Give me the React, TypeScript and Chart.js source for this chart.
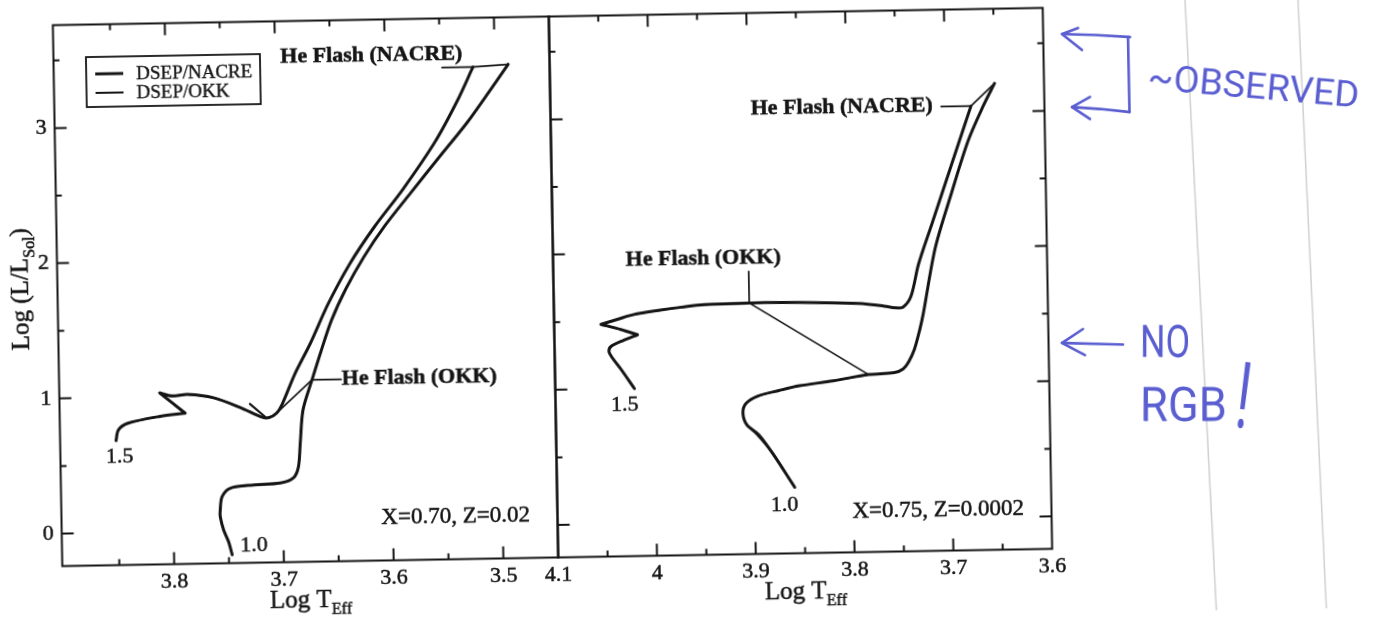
import { useEffect, useRef } from "react";
import { Chart, registerables } from "chart.js";

Chart.register(...registerables);

const SERIF = '"Liberation Serif", "Times New Roman", serif';
const HAND = 'Roboto, "DejaVu Sans", sans-serif';
const INK = "#151515";
const PEN = "#5a5ed0";

// The printed sheet sits about one degree off square on the page.
const SHEET_TILT = 1; // degrees, counter-clockwise
const PIVOT_X = 552.5;
const PIVOT_Y = 287;
const RIGHT_CANVAS_LEFT = 520;

// ---------- shared luminosity axis ----------
const logLMin = -0.24;
const logLMax = 3.761;
const logLTickLabels = [0, 1, 2, 3];

// ---------- X=0.70, Z=0.02 ----------
const z02LogTMin = 3.45;
const z02LogTMax = 3.902;
const z02LogTTickLabels = [3.8, 3.7, 3.6, 3.5];

// 1.0 Msun, NACRE rates: ZAMS to the tip of the red giant branch
const z02M10LogT = [3.747, 3.7501, 3.7544, 3.7573, 3.7572, 3.7553, 3.7477, 3.7266, 3.7021, 3.6901, 3.6853, 3.6832, 3.6802, 3.6715, 3.663, 3.6528, 3.6391, 3.6225, 3.6024, 3.5793, 3.5529, 3.5262, 3.5062, 3.4878];
const z02M10LogL = [-0.178, -0.081, 0.006, 0.105, 0.154, 0.252, 0.314, 0.335, 0.346, 0.382, 0.462, 0.639, 0.883, 1.105, 1.312, 1.543, 1.775, 2.005, 2.238, 2.468, 2.727, 2.986, 3.205, 3.413];
// 1.5 Msun, NACRE rates (turning points of the hook are listed twice to keep the corners sharp)
const z02M15LogT = [3.851, 3.8487, 3.8398, 3.8103, 3.7876, 3.7876, 3.8105, 3.8105, 3.7995, 3.7853, 3.7615, 3.7368, 3.7174, 3.711, 3.704, 3.699, 3.6872, 3.6726, 3.6557, 3.6355, 3.6121, 3.5854, 3.5553, 3.5351, 3.5199];
const z02M15LogL = [0.681, 0.759, 0.808, 0.855, 0.875, 0.875, 1.028, 1.028, 1.004, 1.013, 0.985, 0.908, 0.835, 0.832, 0.866, 0.93, 1.148, 1.372, 1.663, 1.955, 2.23, 2.505, 2.853, 3.143, 3.397];
// He flash with OKK rates (1.0, 1.5) and with NACRE rates (1.5, 1.0)
const z02OkkFlashLogT = [3.6715, 3.704];
const z02OkkFlashLogL = [1.105, 0.866];
const z02NacreFlashLogT = [3.5199, 3.4878];
const z02NacreFlashLogL = [3.397, 3.413];
// short OKK piece meeting the base of the 1.5 giant branch
const z02OkkTailLogT = [3.7285, 3.7146];
const z02OkkTailLogL = [0.935, 0.836];
// label leaders
const z02NacreLeaderLogT = [3.548, 3.5199];
const z02NacreLeaderLogL = [3.397, 3.397];
const z02OkkLeaderLogT = [3.645, 3.6715];
const z02OkkLeaderLogL = [1.105, 1.105];

// ---------- X=0.75, Z=0.0002 ----------
const z0002LogTMin = 3.6;
const z0002LogTMax = 4.1;
const z0002LogTTickLabels = [4.1, 4.0, 3.9, 3.8, 3.7, 3.6];

const z0002M15LogT = [4.0199, 4.0331, 4.0418, 4.045, 4.0426, 4.0301, 4.0158, 4.0158, 4.0325, 4.0527, 4.0527, 4.035, 4.02, 3.9926, 3.97, 3.9478, 3.9022, 3.8515, 3.7925, 3.7678, 3.7545, 3.7466, 3.7384, 3.7301, 3.7161, 3.7021, 3.6881, 3.6744];
const z0002M15LogL = [0.999, 1.143, 1.23, 1.276, 1.315, 1.357, 1.396, 1.396, 1.437, 1.478, 1.478, 1.515, 1.545, 1.575, 1.595, 1.61, 1.617, 1.615, 1.6, 1.58, 1.562, 1.567, 1.646, 1.884, 2.175, 2.467, 2.758, 3.044];
const z0002M10LogT = [3.8594, 3.881, 3.895, 3.9068, 3.9105, 3.9074, 3.895, 3.8736, 3.8528, 3.8189, 3.7826, 3.7564, 3.7475, 3.742, 3.736, 3.73, 3.7262, 3.713, 3.6954, 3.6779, 3.6625, 3.6501];
const z0002M10LogL = [0.248, 0.5, 0.642, 0.716, 0.803, 0.873, 0.928, 0.966, 0.998, 1.03, 1.072, 1.084, 1.11, 1.16, 1.25, 1.4, 1.517, 2.0, 2.408, 2.787, 3.035, 3.209];
// the OKK 1.0 track runs a little apart from NACRE just after the ZAMS
const z0002Okk10LogT = [3.8594, 3.88, 3.8985, 3.9068, 3.9105, 3.9074, 3.895, 3.8736, 3.8528, 3.8189, 3.7826];
const z0002Okk10LogL = [0.248, 0.49, 0.655, 0.716, 0.803, 0.873, 0.928, 0.966, 0.998, 1.03, 1.072];
const z0002OkkFlashLogT = [3.9022, 3.7826];
const z0002OkkFlashLogL = [1.617, 1.072];
const z0002NacreFlashLogT = [3.6744, 3.6501];
const z0002NacreFlashLogL = [3.044, 3.209];
const z0002NacreLeaderLogT = [3.7045, 3.6744];
const z0002NacreLeaderLogL = [3.044, 3.044];
const z0002OkkLeaderLogT = [3.9022, 3.9022];
const z0002OkkLeaderLogL = [1.85, 1.617];

type Pt = { x: number; y: number };
type Note = { text: string; x: number; y: number; align: CanvasTextAlign; font: string };

const toPoints = (t: number[], l: number[]): Pt[] => t.map((v, i) => ({ x: v, y: l[i] }));
const upToPoint = (t: number[], l: number[], ft: number, fl: number): Pt[] => {
  const i = t.findIndex((v, k) => v === ft && l[k] === fl);
  return toPoints(t.slice(0, i + 1), l.slice(0, i + 1));
};

const NACRE_W = 3;
const OKK_W = 1.7;

function trace(label: string, data: Pt[], width: number, tension = 0.3) {
  return {
    label,
    data,
    showLine: true,
    borderColor: INK,
    backgroundColor: INK,
    borderWidth: width,
    pointRadius: 0,
    pointHoverRadius: 0,
    tension,
    fill: false,
    borderCapStyle: "round",
    borderJoinStyle: "round",
  };
}

const isMultiple = (v: number, step: number) => Math.abs(v / step - Math.round(v / step)) < 1e-6;
const inList = (v: number, list: number[]) => list.some((l) => Math.abs(l - v) < 1e-6);
const fmt = (v: number) => String(Math.round(v * 10) / 10);

// Box with inward ticks on the plotting area
function framePlugin(rightTicks: boolean) {
  return {
    id: "frame",
    afterDraw(chart: any) {
      const { ctx, chartArea: a } = chart;
      const xs = chart.scales.x;
      const ys = chart.scales.y;
      ctx.save();
      ctx.strokeStyle = INK;
      ctx.lineWidth = 2;
      ctx.beginPath();
      for (const t of xs.ticks) {
        const px = xs.getPixelForValue(t.value);
        if (px < a.left + 3 || px > a.right - 3) continue;
        const len = isMultiple(t.value, 0.1) ? 12 : 6;
        ctx.moveTo(px, a.bottom);
        ctx.lineTo(px, a.bottom - len);
        ctx.moveTo(px, a.top);
        ctx.lineTo(px, a.top + len);
      }
      for (const t of ys.ticks) {
        const py = ys.getPixelForValue(t.value);
        if (py < a.top + 3 || py > a.bottom - 3) continue;
        const len = isMultiple(t.value, 1) ? 12 : 6;
        ctx.moveTo(a.left, py);
        ctx.lineTo(a.left + len, py);
        if (rightTicks) {
          ctx.moveTo(a.right, py);
          ctx.lineTo(a.right - len, py);
        }
      }
      ctx.stroke();
      ctx.strokeRect(a.left, a.top, a.right - a.left, a.bottom - a.top);
      ctx.restore();
    },
  };
}

function inkText(ctx: CanvasRenderingContext2D, text: string, x: number, y: number) {
  ctx.fillText(text, x, y);
  ctx.strokeText(text, x, y);
}

function subscripted(ctx: CanvasRenderingContext2D, main: string, sub: string, tail: string, cx: number, base: number) {
  const mainFont = `25px ${SERIF}`;
  const subFont = `16px ${SERIF}`;
  ctx.font = mainFont;
  const w1 = ctx.measureText(main).width;
  const w3 = tail ? ctx.measureText(tail).width : 0;
  ctx.font = subFont;
  const w2 = ctx.measureText(sub).width;
  const x0 = cx - (w1 + w2 + w3) / 2;
  ctx.textAlign = "left";
  ctx.textBaseline = "alphabetic";
  ctx.font = mainFont;
  inkText(ctx, main, x0, base);
  ctx.font = subFont;
  inkText(ctx, sub, x0 + w1, base + 7);
  if (tail) {
    ctx.font = mainFont;
    inkText(ctx, tail, x0 + w1 + w2, base);
  }
}

function titlesPlugin(withY: boolean) {
  return {
    id: "titles",
    afterDraw(chart: any) {
      const { ctx, chartArea: a } = chart;
      ctx.save();
      ctx.fillStyle = INK;
      ctx.strokeStyle = INK;
      ctx.lineWidth = 0.5;
      subscripted(ctx, "Log T", "Eff", "", (a.left + a.right) / 2, a.bottom + 45);
      if (withY) {
        ctx.translate(28, (a.top + a.bottom) / 2 - 7);
        ctx.rotate(-Math.PI / 2);
        subscripted(ctx, "Log (L/L", "Sol", ")", 0, 0);
      }
      ctx.restore();
    },
  };
}

function notesPlugin(notes: Note[]) {
  return {
    id: "notes",
    afterDatasetsDraw(chart: any) {
      const { ctx } = chart;
      const xs = chart.scales.x;
      const ys = chart.scales.y;
      ctx.save();
      ctx.fillStyle = INK;
      ctx.strokeStyle = INK;
      ctx.lineWidth = 0.5;
      ctx.textBaseline = "middle";
      for (const n of notes) {
        ctx.font = n.font;
        ctx.textAlign = n.align;
        inkText(ctx, n.text, xs.getPixelForValue(n.x), ys.getPixelForValue(n.y));
      }
      ctx.restore();
    },
  };
}

// Boxed key listing one sample line per rate set
const legendPlugin = {
  id: "keyBox",
  afterDraw(chart: any) {
    const { ctx, chartArea: a } = chart;
    const entries: { label: string; width: number }[] = [];
    for (const ds of chart.data.datasets) {
      if (ds.label.startsWith("DSEP") && !entries.some((e) => e.label === ds.label)) {
        entries.push({ label: ds.label, width: ds.borderWidth });
      }
    }
    const left = a.left + 32.5;
    const top = a.top + 32.5;
    ctx.save();
    ctx.strokeStyle = INK;
    ctx.fillStyle = INK;
    ctx.lineWidth = 1.8;
    ctx.strokeRect(left, top, 174, 50);
    ctx.font = `19px ${SERIF}`;
    ctx.textAlign = "left";
    ctx.textBaseline = "alphabetic";
    entries.forEach((e, i) => {
      const yl = top + 17 + i * 19;
      ctx.lineWidth = Math.max(e.width, 2);
      ctx.beginPath();
      ctx.moveTo(left + 9, yl);
      ctx.lineTo(left + 37, yl);
      ctx.stroke();
      ctx.lineWidth = 0.4;
      inkText(ctx, e.label, left + 50, top + 23 + i * 19);
    });
    ctx.restore();
  },
};

// Pen notes written beside the figure, placed in page coordinates
const penPlugin = {
  id: "pen",
  afterDraw(chart: any) {
    const ctx: CanvasRenderingContext2D = chart.ctx;
    ctx.save();
    ctx.translate(PIVOT_X - RIGHT_CANVAS_LEFT, PIVOT_Y);
    ctx.rotate((SHEET_TILT * Math.PI) / 180);
    ctx.translate(-PIVOT_X, -PIVOT_Y);

    const stroke = (pts: number[][]) => {
      ctx.beginPath();
      pts.forEach(([x, y], i) => (i ? ctx.lineTo(x, y) : ctx.moveTo(x, y)));
      ctx.stroke();
    };
    // scanner shadows of the page
    ctx.strokeStyle = "rgba(120,120,120,0.35)";
    ctx.lineWidth = 1.5;
    stroke([[1185, 0], [1217, 622]]);
    stroke([[1298, 0], [1327, 622]]);

    ctx.strokeStyle = PEN;
    ctx.fillStyle = PEN;
    ctx.lineWidth = 2.6;
    ctx.lineCap = "round";
    ctx.lineJoin = "round";
    stroke([[1130, 37], [1095, 35], [1062, 34]]);
    stroke([[1078, 28], [1062, 34], [1082, 50]]);
    stroke([[1128, 37], [1129.5, 112]]);
    stroke([[1129.5, 112], [1100, 109], [1072, 107]]);
    stroke([[1090, 97], [1072, 107], [1090, 119]]);
    stroke([[1123, 344.5], [1062, 343]]);
    stroke([[1083, 329], [1062, 343], [1085, 355]]);

    const fitText = (text: string, left: number, base: number, width: number, cap: number, angle: number) => {
      const size = cap / 0.711;
      ctx.save();
      ctx.font = `400 ${size.toFixed(1)}px ${HAND}`;
      const natural = ctx.measureText(text).width;
      ctx.translate(left, base);
      ctx.rotate((angle * Math.PI) / 180);
      ctx.scale(width / natural, 1);
      ctx.textAlign = "left";
      ctx.textBaseline = "alphabetic";
      ctx.fillText(text, 0, 0);
      ctx.restore();
    };
    fitText("~OBSERVED", 1147, 89, 212, 26, 5);
    fitText("NO", 1140, 357, 50, 32, 0);
    fitText("RGB", 1140, 421, 87, 34, 0);
    fitText("!", 1233, 427, 14, 66, 7);
    ctx.restore();
  },
};

function panelConfig(p: {
  logTMin: number;
  logTMax: number;
  logTLabels: number[];
  datasets: any[];
  showLogL: boolean;
  yWidth: number;
  padRight: number;
  plugins: any[];
}) {
  const tickFont = { family: SERIF, size: 22 };
  return {
    type: "scatter",
    data: { datasets: p.datasets },
    options: {
      animation: false,
      responsive: false,
      maintainAspectRatio: false,
      events: [],
      layout: { padding: { top: 16.5, right: p.padRight, bottom: 0, left: 0 }, autoPadding: false },
      plugins: { legend: { display: false }, tooltip: { enabled: false } },
      scales: {
        x: {
          type: "linear",
          position: "bottom",
          reverse: true,
          min: p.logTMin,
          max: p.logTMax,
          grid: { display: false, drawTicks: false },
          border: { display: false },
          ticks: {
            stepSize: 0.05,
            autoSkip: false,
            maxRotation: 0,
            includeBounds: false,
            padding: 5,
            color: INK,
            textStrokeColor: INK,
            textStrokeWidth: 0.5,
            font: tickFont,
            callback: (v: number) => (inList(v, p.logTLabels) ? fmt(v) : ""),
          },
          afterBuildTicks: (s: any) => {
            s.ticks = s.ticks.filter((t: any) => t.value >= s.min - 1e-9 && t.value <= s.max + 1e-9);
          },
          afterFit: (s: any) => {
            s.height = 64.5;
            s.paddingLeft = 0;
            s.paddingRight = 0;
          },
        },
        y: {
          type: "linear",
          position: "left",
          min: logLMin,
          max: logLMax,
          grid: { display: false, drawTicks: false },
          border: { display: false },
          ticks: {
            display: p.showLogL,
            stepSize: 0.5,
            includeBounds: false,
            autoSkip: false,
            padding: 8,
            color: INK,
            textStrokeColor: INK,
            textStrokeWidth: 0.5,
            font: tickFont,
            callback: (v: number) => (inList(v, logLTickLabels) ? fmt(v) : ""),
          },
          afterBuildTicks: (s: any) => {
            s.ticks = s.ticks.filter((t: any) => t.value >= s.min - 1e-9 && t.value <= s.max + 1e-9);
          },
          afterFit: (s: any) => {
            s.width = p.yWidth;
            s.paddingTop = 0;
            s.paddingBottom = 0;
          },
        },
      },
    },
    plugins: p.plugins,
  } as any;
}

const BOLD = `bold 22px ${SERIF}`;
const PLAIN = `22px ${SERIF}`;
const PLAIN23 = `23px ${SERIF}`;

const z02Notes: Note[] = [
  { text: "He Flash (NACRE)", x: 3.6953, y: 3.495, align: "left", font: BOLD },
  { text: "He Flash (OKK)", x: 3.6445, y: 1.11, align: "left", font: BOLD },
  { text: "1.5", x: 3.848, y: 0.559, align: "center", font: PLAIN },
  { text: "1.0", x: 3.7271, y: -0.111, align: "center", font: PLAIN },
  { text: "X=0.70, Z=0.02", x: 3.5428, y: 0.071, align: "center", font: PLAIN23 },
];

const z0002Notes: Note[] = [
  { text: "He Flash (NACRE)", x: 3.713, y: 3.05, align: "right", font: BOLD },
  { text: "He Flash (OKK)", x: 3.948, y: 1.95, align: "center", font: BOLD },
  { text: "1.5", x: 4.0298, y: 0.88, align: "center", font: PLAIN },
  { text: "1.0", x: 3.87, y: 0.12, align: "center", font: PLAIN },
  { text: "X=0.75, Z=0.0002", x: 3.7146, y: 0.06, align: "center", font: PLAIN23 },
];

function z02Datasets() {
  return [
    trace("DSEP/NACRE", toPoints(z02M10LogT, z02M10LogL), NACRE_W),
    trace("DSEP/NACRE", toPoints(z02M15LogT, z02M15LogL), NACRE_W),
    trace("DSEP/OKK", upToPoint(z02M10LogT, z02M10LogL, z02OkkFlashLogT[0], z02OkkFlashLogL[0]), OKK_W),
    trace("DSEP/OKK", upToPoint(z02M15LogT, z02M15LogL, z02OkkFlashLogT[1], z02OkkFlashLogL[1]), OKK_W),
    trace("DSEP/OKK", toPoints(z02OkkTailLogT, z02OkkTailLogL), 2.2, 0),
    trace("He flash, OKK", toPoints(z02OkkFlashLogT, z02OkkFlashLogL), OKK_W, 0),
    trace("He flash, NACRE", toPoints(z02NacreFlashLogT, z02NacreFlashLogL), OKK_W, 0),
    trace("leader NACRE", toPoints(z02NacreLeaderLogT, z02NacreLeaderLogL), OKK_W, 0),
    trace("leader OKK", toPoints(z02OkkLeaderLogT, z02OkkLeaderLogL), OKK_W, 0),
  ];
}

function z0002Datasets() {
  return [
    trace("DSEP/NACRE", toPoints(z0002M10LogT, z0002M10LogL), NACRE_W),
    trace("DSEP/NACRE", toPoints(z0002M15LogT, z0002M15LogL), NACRE_W),
    trace("DSEP/OKK", toPoints(z0002Okk10LogT, z0002Okk10LogL), OKK_W),
    trace("DSEP/OKK", upToPoint(z0002M15LogT, z0002M15LogL, z0002OkkFlashLogT[0], z0002OkkFlashLogL[0]), OKK_W),
    trace("He flash, OKK", toPoints(z0002OkkFlashLogT, z0002OkkFlashLogL), OKK_W, 0),
    trace("He flash, NACRE", toPoints(z0002NacreFlashLogT, z0002NacreFlashLogL), OKK_W, 0),
    trace("leader NACRE", toPoints(z0002NacreLeaderLogT, z0002NacreLeaderLogL), OKK_W, 0),
    trace("leader OKK", toPoints(z0002OkkLeaderLogT, z0002OkkLeaderLogL), OKK_W, 0),
  ];
}

const LEFT_W = 556;
const RIGHT_W = 1376 - RIGHT_CANVAS_LEFT;
const PLOT_RIGHT = 1047.5; // page x of the right frame edge

export default function App() {
  const leftRef = useRef<HTMLCanvasElement>(null);
  const rightRef = useRef<HTMLCanvasElement>(null);

  useEffect(() => {
    const left = new Chart(
      leftRef.current as HTMLCanvasElement,
      panelConfig({
        logTMin: z02LogTMin,
        logTMax: z02LogTMax,
        logTLabels: z02LogTTickLabels,
        datasets: z02Datasets(),
        showLogL: true,
        yWidth: 57.5,
        padRight: LEFT_W - 553.5,
        plugins: [framePlugin(false), titlesPlugin(true), notesPlugin(z02Notes), legendPlugin],
      })
    );
    const right = new Chart(
      rightRef.current as HTMLCanvasElement,
      panelConfig({
        logTMin: z0002LogTMin,
        logTMax: z0002LogTMax,
        logTLabels: z0002LogTTickLabels,
        datasets: z0002Datasets(),
        showLogL: false,
        yWidth: 553.5 - RIGHT_CANVAS_LEFT,
        padRight: RIGHT_W - (PLOT_RIGHT - RIGHT_CANVAS_LEFT),
        plugins: [framePlugin(true), titlesPlugin(false), notesPlugin(z0002Notes), penPlugin],
      })
    );
    return () => {
      left.destroy();
      right.destroy();
    };
  }, []);

  return (
    <div style={{ position: "fixed", left: 0, top: 0, width: 1376, height: 622, overflow: "hidden", background: "#fff" }}>
      <div
        style={{
          position: "absolute",
          left: 0,
          top: 0,
          width: 1376,
          height: 622,
          transform: `rotate(${-SHEET_TILT}deg)`,
          transformOrigin: `${PIVOT_X}px ${PIVOT_Y}px`,
        }}
      >
        <canvas ref={leftRef} width={LEFT_W} height={622} style={{ position: "absolute", left: 0, top: 0, width: LEFT_W, height: 622 }} />
        <canvas
          ref={rightRef}
          width={RIGHT_W}
          height={622}
          style={{ position: "absolute", left: RIGHT_CANVAS_LEFT, top: 0, width: RIGHT_W, height: 622 }}
        />
      </div>
    </div>
  );
}
